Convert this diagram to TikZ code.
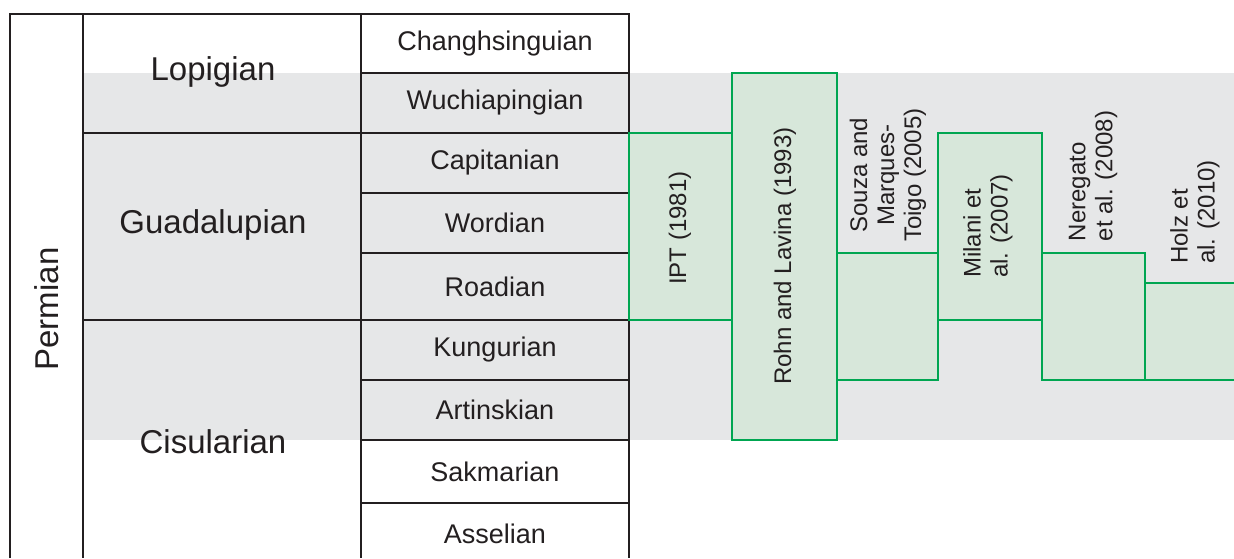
\documentclass[tikz,border=0pt]{standalone}
\usepackage{fontspec}
\setmainfont{Liberation Sans}
\definecolor{ink}{HTML}{231F20}
\definecolor{band}{HTML}{E6E7E8}
\definecolor{gline}{HTML}{00A651}
\definecolor{gfill}{HTML}{D7E7DA}
\tikzset{
  grid/.style={draw=ink, line width=2pt},
  stagelbl/.style={text=ink, font=\fontsize{27}{30}\selectfont, inner sep=0pt},
  serieslbl/.style={text=ink, font=\fontsize{33}{36}\selectfont, inner sep=0pt},
  gbox/.style={draw=gline, fill=gfill, line width=2pt, anchor=north west, inner sep=0pt, outer sep=0pt},
  reflbl/.style={text=ink, font=\fontsize{24}{27}\selectfont, rotate=90, inner sep=0pt},
}
\begin{document}
\begin{tikzpicture}[x=1pt,y=-1pt]
\useasboundingbox (0,0) rectangle (1234,558);
\fill[band] (83,73) rectangle (1240,440);
% table grid
\draw[grid] (10,558) -- (10,14) -- (629,14) -- (629,558);
\draw[grid] (83,14) -- (83,558);
\draw[grid] (361,14) -- (361,558);
\draw[grid] (83,133) -- (629,133);
\draw[grid] (83,320) -- (629,320);
\foreach \yy in {73,193,253,380,440,503}
  \draw[grid] (361,\yy) -- (629,\yy);
% period and series
\node[serieslbl, rotate=90] (permian) at (47,309) {Permian};
\node[serieslbl] (lopigian) at (213,72) {Lopigian};
\node[serieslbl] (guadalupian) at (213,225) {Guadalupian};
\node[serieslbl] (cisularian) at (213,442) {Cisularian};
% stages
\node[stagelbl] (changhsinguian) at (495,43.5) {Changhsinguian};
\node[stagelbl] (wuchiapingian) at (495,103) {Wuchiapingian};
\node[stagelbl] (capitanian) at (495,163) {Capitanian};
\node[stagelbl] (wordian) at (495,223) {Wordian};
\node[stagelbl] (roadian) at (495,287) {Roadian};
\node[stagelbl] (kungurian) at (495,350) {Kungurian};
\node[stagelbl] (artinskian) at (495,410) {Artinskian};
\node[stagelbl] (sakmarian) at (495,472) {Sakmarian};
\node[stagelbl] (asselian) at (495,534) {Asselian};
% reference ranges
\node[gbox, minimum width=103pt, minimum height=187pt] (ipt) at (629,133) {};
\node[gbox, minimum width=105pt, minimum height=367pt] (rohn) at (732,73) {};
\node[gbox, minimum width=101pt, minimum height=127pt] (souza) at (837,253) {};
\node[gbox, minimum width=104pt, minimum height=187pt] (milani) at (938,133) {};
\node[gbox, minimum width=103pt, minimum height=127pt] (neregato) at (1042,253) {};
\node[gbox, minimum width=100pt, minimum height=97pt] (holz) at (1145,283) {};
% reference labels
\node[reflbl] (iptlbl) at (680,228) {IPT (1981)};
\node[reflbl] (rohnlbl) at (785,256) {Rohn and Lavina (1993)};
\node[reflbl, align=center] (souzalbl) at (888,175) {Souza and\\Marques-\\Toigo (2005)};
\node[reflbl, align=left] (milanilbl) at (988,226) {Milani et\\al. (2007)};
\node[reflbl, align=left] (neregatolbl) at (1093,176) {Neregato\\et al. (2008)};
\node[reflbl, align=left] (holzlbl) at (1195,212) {Holz et\\al. (2010)};
\end{tikzpicture}
\end{document}
